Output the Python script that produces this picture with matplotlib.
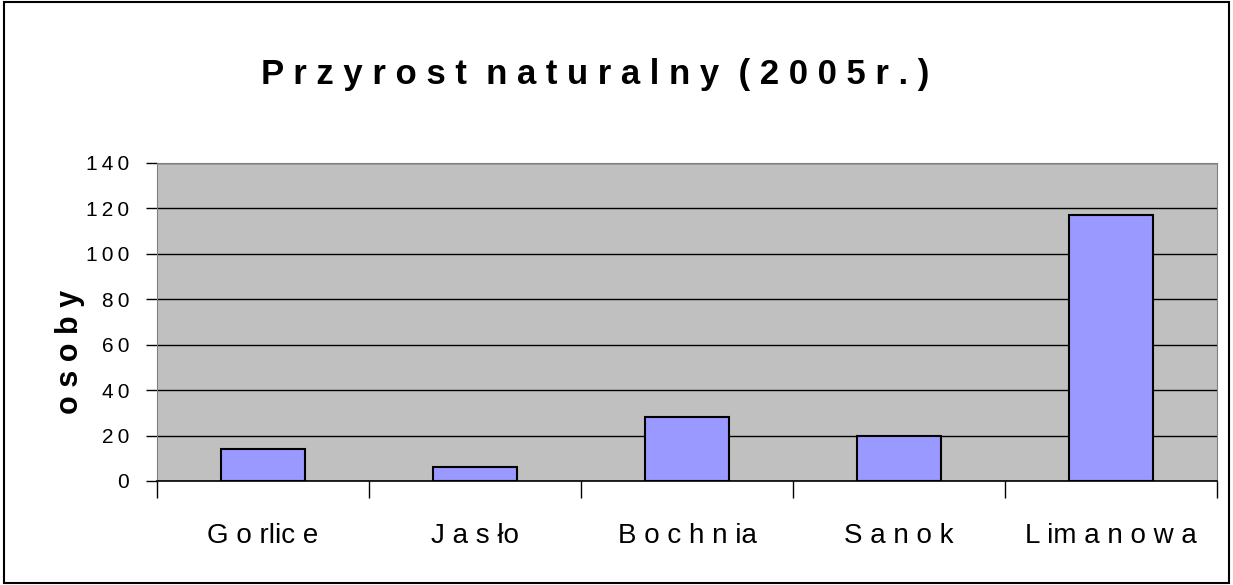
import matplotlib
matplotlib.use("Agg")
import matplotlib.pyplot as plt
from matplotlib.patches import Rectangle

plt.rcParams['font.family'] = ['Liberation Sans', 'DejaVu Sans']

# dane
powiaty = ['G o rlic e', 'J a s ło', 'B o c h n ia', 'S a n o k', 'L im a n o w a']
przyrost = [14, 6, 28, 20, 117]
yticks = [0, 20, 40, 60, 80, 100, 120, 140]

fig = plt.figure(figsize=(12.33, 5.85), dpi=100)
ax = fig.add_axes([0.1273, 0.1778, 0.8597, 0.5436])
ax.set_facecolor('#c0c0c0')

x = range(len(powiaty))
ax.bar(x, przyrost, width=0.4, color='#9999ff', edgecolor='black', linewidth=1.5, zorder=3)

ax.set_xlim(-0.5, len(powiaty) - 0.5)
ax.set_ylim(0, 140)
ax.set_yticks(yticks)
ax.set_yticklabels(['\u2009'.join(str(v)) for v in yticks], fontsize=15)
ax.yaxis.grid(True, color='black', linewidth=1, zorder=1)
ax.set_axisbelow(True)

# etykiety kategorii
ax.set_xticks(list(x))
ax.set_xticklabels(powiaty, fontsize=20)
ax.tick_params(axis='x', length=0, pad=30)
ax.set_xticks([i - 0.5 for i in range(len(powiaty) + 1)], minor=True)
ax.tick_params(axis='x', which='minor', length=12, width=1, color='black', direction='out')
ax.tick_params(axis='y', length=8, width=1, direction='out', pad=12)

for s in ['left', 'top', 'right']:
    ax.spines[s].set_color('#808080')
ax.spines['bottom'].set_color('black')
ax.spines['bottom'].set_linewidth(1.2)

fig.text(0.057, 0.398, 'o s o b y', rotation=90, ha='center', va='center',
         fontsize=22, fontweight='bold')

fig.text(0.483, 0.872, 'P r z y r o s t  n a t u r a l n y  ( 2 0 0 5 r . )',
         ha='center', va='center', fontsize=25, fontweight='bold')

# ramka wykresu
fig.patches.append(Rectangle((0.003, 0.004), 0.994, 0.992, transform=fig.transFigure,
                             fill=False, edgecolor='black', linewidth=1.5))

fig.savefig('out.png', dpi=100, facecolor='white')
